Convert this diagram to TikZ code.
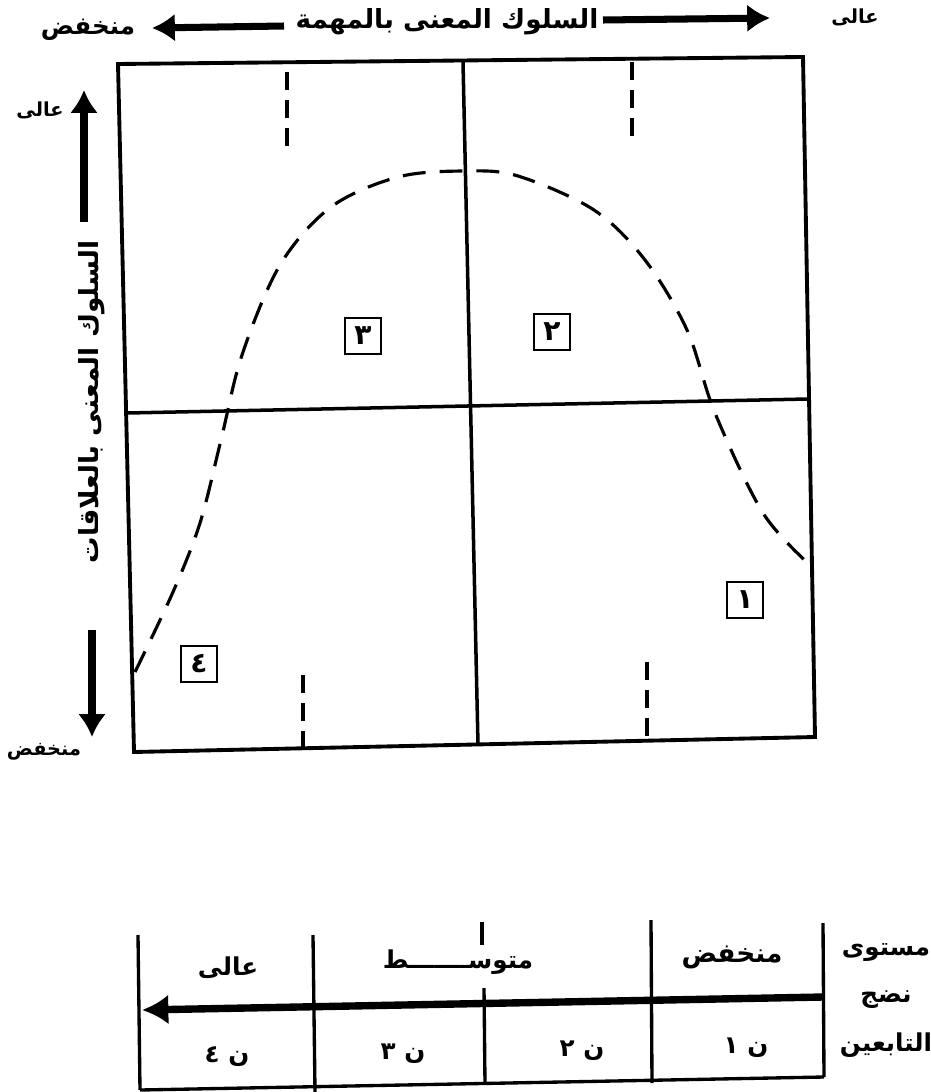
\documentclass[tikz,border=0pt]{standalone}
\usepackage{fontspec}
\newfontfamily\ar[Script=Arabic]{DejaVu Sans}
\TeXXeTstate=1
\usetikzlibrary{arrows.meta}
\newcommand{\rtltext}[1]{\beginR #1\endR}
\newcommand{\nlabel}[1]{\beginR\hbox{ن}\ \hbox{#1}\endR}
\begin{document}
\begin{tikzpicture}[x=0.02cm,y=-0.02cm,
  frame/.style={line width=2.2pt},
  midline/.style={line width=2pt},
  curvy/.style={line width=1.8pt, dash pattern=on 13pt off 8pt},
  tickd/.style={line width=2.2pt, dash pattern=on 10pt off 6pt},
  numbox/.style={draw, line width=1.4pt, minimum width=0.72cm, minimum height=0.72cm, inner sep=0pt, font=\ar\bfseries\fontsize{16}{16}\selectfont},
  lbl/.style={inner sep=1pt, font=\ar\bfseries\fontsize{14}{16}\selectfont},
  lblsmall/.style={inner sep=1pt, font=\ar\bfseries\fontsize{11}{13}\selectfont},
  lblbig/.style={inner sep=1pt, font=\ar\bfseries\fontsize{15}{17}\selectfont},
  axisarrow/.style={line width=4pt, -{Latex[length=13pt,width=16pt]}},
  tablearrow/.style={line width=4.2pt, -{Latex[length=15pt,width=17pt]}},
  tline/.style={line width=1.9pt}
]
\useasboundingbox (0,0) rectangle (930,1092);

% ---------- main square ----------
\coordinate (TL) at (118,64);
\coordinate (TR) at (803,57);
\coordinate (BR) at (815,737);
\coordinate (BL) at (134,752);
\coordinate (MT) at (463,62);
\coordinate (MB) at (478,745);
\coordinate (ML) at (127,413);
\coordinate (MR) at (808,399);
\draw[frame] (TL) -- (TR) -- (BR) -- (BL) -- cycle;
\draw[midline] (MT) -- (MB);
\draw[midline] (ML) -- (MR);

% short dashed verticals
\coordinate (d1a) at (287,72);  \coordinate (d1b) at (287,148);
\coordinate (d2a) at (632,62);  \coordinate (d2b) at (632,140);
\coordinate (d3a) at (303,675); \coordinate (d3b) at (303,747);
\coordinate (d4a) at (647,662); \coordinate (d4b) at (647,737);
\draw[tickd] (d1a) -- (d1b);
\draw[tickd] (d2a) -- (d2b);
\draw[tickd] (d3a) -- (d3b);
\draw[tickd] (d4a) -- (d4b);

% bell curve
\draw[curvy] plot[smooth, tension=0.55] coordinates {
 (135,672) (173,592) (200,523) (221,440) (242,355) (280,265) (331,207)
 (398,177) (465,171) (518,176) (594,210) (645,260) (687,330) (715,413)
 (763,513) (810,565)};

% quadrant numbers
\node[numbox] (n3) at (363,336) {٣};
\node[numbox] (n2) at (552,332) {٢};
\node[numbox] (n1) at (745,600) {١};
\node[numbox] (n4) at (199,664) {٤};

% ---------- top axis ----------
\node[lblsmall] (hHigh) at (855,17) {\rtltext{عالى}};
\node[lblbig] (hTitle) at (447,22) {\rtltext{السلوك المعنى بالمهمة}};
\node[lbl] (hLow) at (88,30) {\rtltext{منخفض}};
\coordinate (hR0) at (603,20); \coordinate (hR1) at (770,18);
\coordinate (hL0) at (284,26); \coordinate (hL1) at (152,28);
\draw[axisarrow] (hR0) -- (hR1);
\draw[axisarrow] (hL0) -- (hL1);

% ---------- left axis ----------
\node[lblsmall] (vHigh) at (40,110) {\rtltext{عالى}};
\coordinate (vU0) at (84,222); \coordinate (vU1) at (84,90);
\draw[axisarrow] (vU0) -- (vU1);
\node[lblbig, rotate=90] (vTitle) at (92,402) {\rtltext{السلوك المعنى بالعلاقات}};
\coordinate (vD0) at (92,630); \coordinate (vD1) at (92,737);
\draw[axisarrow] (vD0) -- (vD1);
\node[lblsmall] (vLow) at (44,752) {\rtltext{منخفض}};

% ---------- maturity table ----------
\coordinate (c1a) at (138,935); \coordinate (c1b) at (140,1090);
\coordinate (c2a) at (313,935); \coordinate (c2b) at (315,1092);
\coordinate (c3t) at (482,922); \coordinate (c3u) at (482,945);
\coordinate (c3a) at (484,988); \coordinate (c3b) at (485,1084);
\coordinate (c4a) at (651,920); \coordinate (c4b) at (652,1083);
\coordinate (c5a) at (823,923); \coordinate (c5b) at (824,1077);
\draw[tline] (c1a) -- (c1b);
\draw[tline] (c2a) -- (c2b);
\draw[tline] (c3t) -- (c3u);
\draw[tline] (c3a) -- (c3b);
\draw[tline] (c4a) -- (c4b);
\draw[tline] (c5a) -- (c5b);
\draw[tline] (c1b) -- (c5b);
\coordinate (ta0) at (823,997); \coordinate (ta1) at (142,1010);
\draw[tablearrow] (ta0) -- (ta1);

\node[lbl] (tHigh) at (228,968) {\rtltext{عالى}};
\node[lbl] (tMid) at (458,962) {\rtltext{متوســـــــط}};
\node[lblbig] (tLow) at (732,957) {\rtltext{منخفض}};
\node[lbl] (tN4) at (227,1057) {\nlabel{٤}};
\node[lbl] (tN3) at (403,1054) {\nlabel{٣}};
\node[lbl] (tN2) at (582,1051) {\nlabel{٢}};
\node[lbl] (tN1) at (746,1048) {\nlabel{١}};

\node[lbl] (rA) at (886,952) {\rtltext{مستوى}};
\node[lbl] (rB) at (886,1000) {\rtltext{نضج}};
\node[lbl] (rC) at (886,1045) {\rtltext{التابعين}};
\end{tikzpicture}
\end{document}
